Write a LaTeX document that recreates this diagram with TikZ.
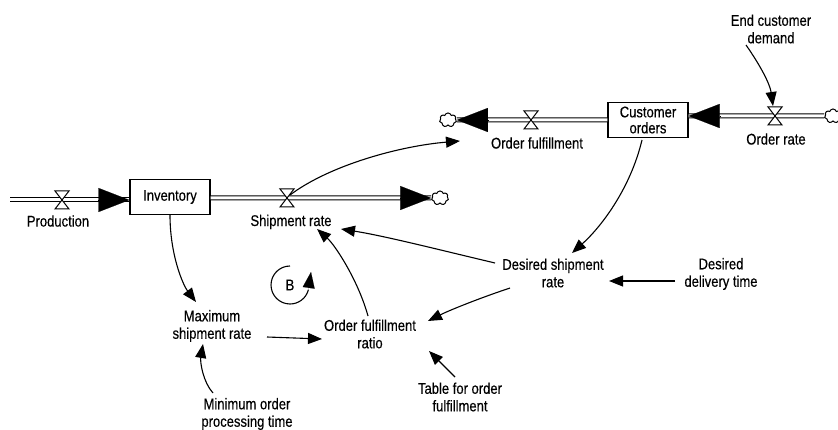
\documentclass[tikz,border=0pt]{standalone}
\usepackage{fontspec}
\setmainfont{Liberation Sans}[FakeStretch=0.84,FakeBold=0.35]
\usetikzlibrary{arrows.meta,calc,shapes.symbols}
\tikzset{
  lbl/.style={align=center,inner sep=0pt,font=\fontsize{15.5}{17.5}\selectfont},
  stock/.style={draw,line width=1.1pt,minimum width=80pt,minimum height=35pt,inner sep=0pt,align=center,font=\fontsize{15.5}{16}\selectfont,fill=white},
  pipe/.style={double,double distance=3pt,line width=1pt},
  flowhead/.style={line width=0.1pt,-{Triangle[length=31pt,width=24pt]}},
  info/.style={line width=1.1pt,-{Triangle[length=14pt,width=11pt]}},
  sink/.style={cloud,draw,cloud puffs=7,minimum width=17pt,minimum height=14pt,inner sep=0pt,fill=white,line width=1pt,aspect=1.3},
  valve/.pic={\filldraw[fill=white,line width=1pt] (-7,-9) -- (7,-9) -- (-7,9) -- (7,9) -- cycle;}
}
\begin{document}
\begin{tikzpicture}[x=1pt,y=-1pt]
\useasboundingbox (0,0) rectangle (838,430);
% stocks
\node[stock] (inv) at (170,197) {Inventory};
\node[stock] (co) at (648,120) {Customer\\orders};
% clouds
\node[sink] (c1) at (440,198) {};
\node[sink] (c2) at (448,120) {};
\node[sink] (c3) at (833,116) {};
\coordinate (src) at (10,200);
% pipes
\draw[pipe] (src) -- (inv.west |- src);
\draw[flowhead] ($(inv.west |- src)+(-31,0)$) -- (inv.west |- src);
\draw[pipe] (inv.east |- c1) -- (c1.west);
\draw[flowhead] ($(c1.west)+(-31,0)$) -- (c1.west);
\draw[pipe] (co.west |- c2) -- (c2.east);
\draw[flowhead] ($(c2.east)+(31,0)$) -- (c2.east);
\draw[pipe] (c3.west) -- (co.east |- c3);
\draw[flowhead] ($(co.east |- c3)+(31,0)$) -- (co.east |- c3);
% valves
\coordinate (prv) at (62,200);
\coordinate (shv) at (287,198);
\coordinate (ofv) at (531,120);
\coordinate (orv) at (775,116);
\pic at (prv) {valve};
\pic at (shv) {valve};
\pic at (ofv) {valve};
\pic at (orv) {valve};
% labels
\node[lbl] (prl) at (58,221) {Production};
\node[lbl] (shl) at (291,222) {Shipment rate};
\node[lbl] (ofl) at (537,143) {Order fulfillment};
\node[lbl] (orl) at (776,139) {Order rate};
\node[lbl] (ecd) at (771,29) {End customer\\demand};
\node[lbl] (max) at (212,326) {Maximum\\shipment rate};
\node[lbl] (ofr) at (370,334) {Order fulfillment\\ratio};
\node[lbl] (dsr) at (553,273) {Desired shipment\\rate};
\node[lbl] (ddt) at (721,274) {Desired\\delivery time};
\node[lbl] (mop) at (247,414) {Minimum order\\processing time};
\node[lbl] (tab) at (460,397) {Table for order\\fulfillment};
\node[lbl] (b) at (290,285) {B};
% loop marker
\draw[line width=1.1pt] ($(b)+(0,-19)$) arc[start angle=-90,end angle=-345,radius=19];
\draw[line width=0.1pt,-{Triangle[length=16pt,width=12pt]}] ($(b)+(18.4,4.9)$) -- ($(b)+(21,-13)$);
% information links
\draw[info] ($(shv)+(3,-3)$) .. controls +(40,-30) and +(-60,5) .. ($(c2)+(12,21)$);
\draw[info] ($(co)+(-6,20)$) .. controls +(-12,50) and +(28,-25) .. ($(dsr)+(19,-20)$);
\draw[info] ($(dsr)+(-58,-10)$) .. controls +(-55,-13) and +(44,7) .. ($(shl)+(50,7)$);
\draw[info] ($(dsr)+(-43,15)$) .. controls +(-30,10) and +(22,-11) .. ($(ofr)+(58,-13)$);
\draw[info] ($(ddt)+(-46,7)$) -- ($(dsr)+(56,8)$);
\draw[info] ($(ofr)+(-2,-18)$) .. controls +(-10,-36) and +(18,16) .. ($(shl)+(26,7)$);
\draw[info] (inv.south) .. controls +(0,40) and +(-13,-17) .. ($(max)+(-16,-24)$);
\draw[info] ($(max)+(55,11)$) -- ($(ofr)+(-48,5)$);
\draw[info] ($(mop)+(-34,-21)$) .. controls +(-10,-11) and +(-3,18) .. ($(max)+(-9,18)$);
\draw[info] ($(tab)+(-5,-20)$) -- ($(ofr)+(59,17)$);
\draw[info] ($(ecd)+(-25,16)$) .. controls +(14,20) and +(-3,-22) .. ($(orv)+(-2,-10)$);
\end{tikzpicture}
\end{document}
